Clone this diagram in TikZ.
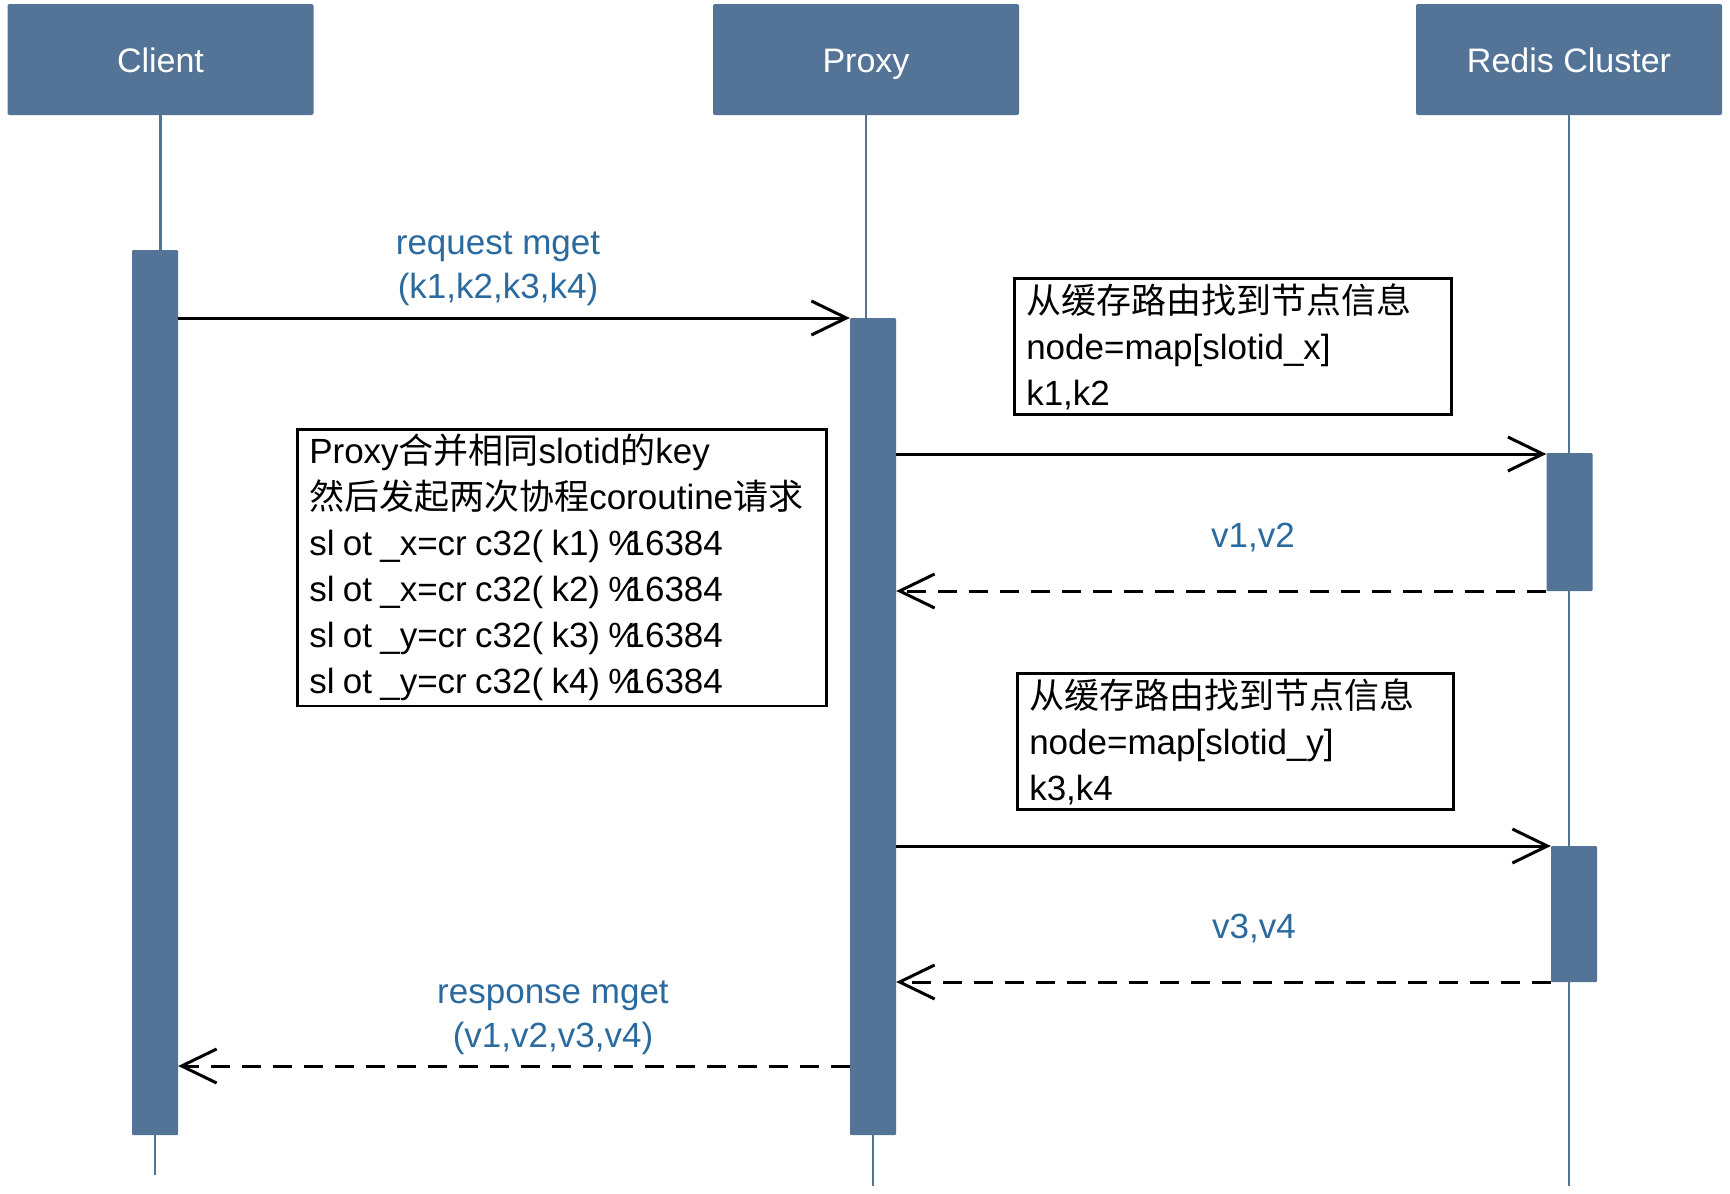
\documentclass[tikz,border=0pt]{standalone}
\usepackage{fontspec}
\setmainfont{Liberation Sans}
\newfontfamily\cjk{Noto Sans CJK SC}
\usetikzlibrary{arrows.meta}
\definecolor{hdr}{HTML}{537496}
\definecolor{lbl}{HTML}{2B6A9F}
\newcommand{\nsp}{\hspace{8.3pt}}
\newcommand{\pct}{\%\kern-14pt}
\begin{document}
\begin{tikzpicture}[x=1pt,y=-1pt,
 head/.style={fill=hdr, draw=none, rounded corners=2pt, minimum width=306pt, minimum height=111pt, text=white, font=\fontsize{34}{40}\selectfont, text height=25pt, text depth=0pt, inner sep=0pt},
 bar/.style={fill=hdr, draw=none, minimum width=46pt, inner sep=0pt, rounded corners=1pt},
 life/.style={draw=hdr, line width=2.5pt},
 msg/.style={line width=3pt, -{Straight Barb[length=35pt,width=34pt,line width=3pt]}},
 ret/.style={msg, dash pattern=on 19pt off 12pt},
 note/.style={draw=black, line width=2.5pt, inner xsep=12pt, inner ysep=5pt, align=left, anchor=north west, font=\fontsize{35}{46}\selectfont},
 lab/.style={text=lbl, font=\fontsize{35}{44}\selectfont, align=center, inner sep=0pt}]
\fill[white] (0,0) rectangle (1730,1194);
\useasboundingbox (0,0) rectangle (1730,1194);

% headers
\node[head] (client) at (160.5,59.5) {Client};
\node[head] (proxy) at (866,59.5) {Proxy};
\node[head] (redis) at (1569,59.5) {Redis Cluster};

% end points of lifelines
\coordinate (cend) at (155,1175);
\coordinate (pend) at (873,1186);
\coordinate (rend) at (1569,1186);

% activation bars
\node[bar, minimum height=885pt, anchor=north] (cbar) at (155,250) {};
\node[bar, minimum height=817pt, anchor=north] (pbar) at (873,318) {};
\node[bar, minimum height=138pt, anchor=north] (rbar1) at (1569.5,453) {};
\node[bar, minimum height=136pt, anchor=north] (rbar2) at (1574,846) {};

% lifelines
\draw[life] (client.south) -- (client.south |- cbar.north);
\draw[life] (cbar.south) -- (cend);
\draw[life] (proxy.south) -- (proxy.south |- pbar.north);
\draw[life] (pbar.south) -- (pend);
\draw[life] (redis.south) -- (redis.south |- rbar1.north);
\draw[life] (redis.south |- rbar1.south) -- (redis.south |- rbar2.north);
\draw[life] (redis.south |- rbar2.south) -- (rend);

% message levels
\coordinate (y1) at (0,318);
\coordinate (y2) at (0,454);
\coordinate (y3) at (0,591);
\coordinate (y4) at (0,846);
\coordinate (y5) at (0,982);
\coordinate (y6) at (0,1066);

\draw[msg] (cbar.east |- y1) -- (pbar.west |- y1);
\draw[msg] (pbar.east |- y2) -- (rbar1.west |- y2);
\draw[ret] (rbar1.west |- y3) -- (pbar.east |- y3);
\draw[msg] (pbar.east |- y4) -- (rbar2.west |- y4);
\draw[ret] (rbar2.west |- y5) -- (pbar.east |- y5);
\draw[ret] (pbar.west |- y6) -- (cbar.east |- y6);

% notes
\node[note, text width=413pt] (n1) at (1013,277) {{\cjk 从缓存路由找到节点信息}\\node=map[slotid\_x]\\k1,k2};
\node[note, text width=412pt] (n2) at (1016,672) {{\cjk 从缓存路由找到节点信息}\\node=map[slotid\_y]\\k3,k4};
\node[note, text width=505pt] (n0) at (296,428) {Proxy{\cjk 合并相同}slotid{\cjk 的}key\\{\cjk 然后发起两次协程}coroutine{\cjk 请求}\\sl\nsp ot\nsp\_x=cr\nsp c32(\nsp k1)\nsp\pct16384\\sl\nsp ot\nsp\_x=cr\nsp c32(\nsp k2)\nsp\pct16384\\sl\nsp ot\nsp\_y=cr\nsp c32(\nsp k3)\nsp\pct16384\\sl\nsp ot\nsp\_y=cr\nsp c32(\nsp k4)\nsp\pct16384};

% labels
\node[lab] (l1) at (498,269) {request mget\\(k1,k2,k3,k4)};
\node[lab, anchor=base] (l2) at (1253,547) {v1,v2};
\node[lab, anchor=base] (l3) at (1254,938) {v3,v4};
\node[lab] (l4) at (553,1018) {response mget\\(v1,v2,v3,v4)};
\end{tikzpicture}
\end{document}
